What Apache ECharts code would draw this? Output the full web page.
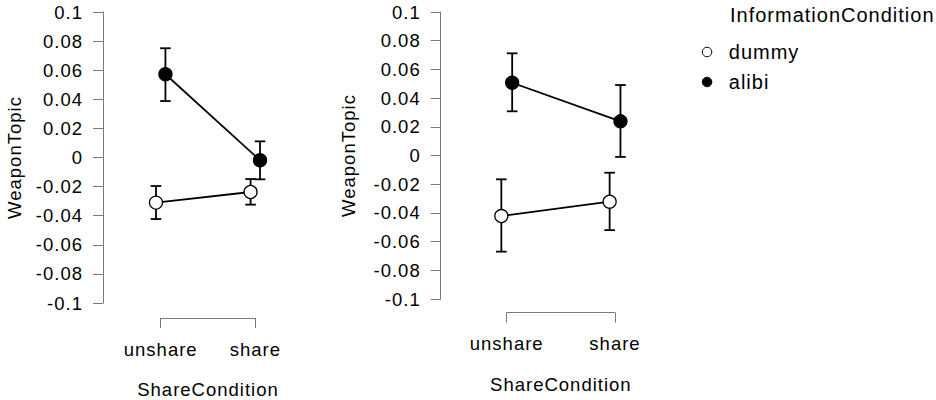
<!DOCTYPE html>
<html>
<head>
<meta charset="utf-8">
<script src="https://cdn.jsdelivr.net/npm/echarts@6/dist/echarts.min.js"></script>
<style>
  html, body { margin: 0; padding: 0; background: #fff; }
  #chart { width: 936px; height: 400px; }
  /* R's text is a bit more loosely spaced than Liberation Sans */
  #chart svg text { letter-spacing: 1px; }
</style>
</head>
<body>
<div id="chart"></div>
<script>
  'use strict'

  //------------------- Data -------------------//
  var categories = ['unshare', 'share']
  var groups = ['dummy', 'alibi']
  var yTicks = { min: -0.1, max: 0.1, step: 0.02 }

  // left panel
  var dummyMean1 = [-0.031, -0.0237]
  var dummyLow1 = [-0.0423, -0.0324]
  var dummyHigh1 = [-0.0196, -0.0148]
  var alibiMean1 = [0.0572, -0.0019]
  var alibiLow1 = [0.0388, -0.015]
  var alibiHigh1 = [0.0751, 0.0111]

  // right panel
  var dummyMean2 = [-0.0422, -0.0322]
  var dummyLow2 = [-0.067, -0.052]
  var dummyHigh2 = [-0.0166, -0.012]
  var alibiMean2 = [0.0507, 0.0238]
  var alibiLow2 = [0.0308, -0.001]
  var alibiHigh2 = [0.0712, 0.0491]

  //------------------- Helpers -------------------//
  var font = 'Liberation Sans, Arial, Helvetica, sans-serif'
  var axisFont = 18.5
  var axisGrey = '#7a7a7a'
  var dodge = { dummy: -0.05, alibi: 0.05 }
  var fills = { dummy: '#fff', alibi: '#000' }

  function points(group, means) {
    return means.map((v, i) => [i + 1 + dodge[group], v])
  }

  function bars(group, lows, highs) {
    return lows.map((lo, i) => [i + 1 + dodge[group], lo, highs[i]])
  }

  function errorBarItem(params, api) {
    var x = api.value(0)
    var lo = api.coord([x, api.value(1)])
    var hi = api.coord([x, api.value(2)])
    var w = 5.3
    var style = { stroke: '#000', lineWidth: 1.8 }
    return {
      type: 'group',
      children: [
        { type: 'line', shape: { x1: lo[0], y1: lo[1], x2: hi[0], y2: hi[1] }, style: style },
        { type: 'line', shape: { x1: lo[0] - w, y1: lo[1], x2: lo[0] + w, y2: lo[1] }, style: style },
        { type: 'line', shape: { x1: hi[0] - w, y1: hi[1], x2: hi[0] + w, y2: hi[1] }, style: style },
      ],
    }
  }

  function lineSeries(name, data, axisIdx) {
    return {
      name,
      type: 'line',
      xAxisIndex: axisIdx,
      yAxisIndex: axisIdx,
      data,
      symbol: 'circle',
      symbolSize: 13,
      showAllSymbol: true,
      z: 3,
      lineStyle: { color: '#000', width: 1.8 },
      itemStyle: { color: fills[name], borderColor: '#000', borderWidth: 1.3 },
      emphasis: { disabled: true },
    }
  }

  function errSeries(name, data, axisIdx) {
    return {
      name,
      type: 'custom',
      xAxisIndex: axisIdx,
      yAxisIndex: axisIdx,
      data,
      z: 2,
      itemStyle: { color: fills[name], borderColor: '#000' },
      renderItem: errorBarItem,
      encode: { x: 0, y: [1, 2] },
    }
  }

  function mainAxes(gridIdx, nameGap) {
    return {
      x: { gridIndex: gridIdx, type: 'value', min: 0.39, max: 2.61, show: false },
      y: {
        gridIndex: gridIdx,
        type: 'value',
        min: yTicks.min,
        max: yTicks.max,
        interval: yTicks.step,
        name: 'WeaponTopic',
        nameLocation: 'middle',
        nameGap,
        nameRotate: 90,
        nameTextStyle: { fontSize: axisFont, color: '#000', fontFamily: font },
        axisLine: { show: true, lineStyle: { color: axisGrey, width: 1 } },
        axisTick: { show: true, length: 10, lineStyle: { color: axisGrey, width: 1 } },
        axisLabel: {
          fontSize: axisFont,
          color: '#000',
          fontFamily: font,
          margin: 20,
          formatter: v => String(parseFloat(v.toFixed(2))),
        },
        splitLine: { show: false },
      },
    }
  }

  function bracketAxes(gridIdx) {
    return {
      x: {
        gridIndex: gridIdx,
        type: 'value',
        min: 1,
        max: categories.length,
        interval: 1,
        name: 'ShareCondition',
        nameLocation: 'middle',
        nameGap: 62,
        nameTextStyle: { fontSize: axisFont, color: '#000', fontFamily: font },
        axisLine: { show: true, lineStyle: { color: axisGrey, width: 1 } },
        axisTick: { show: true, length: 10, lineStyle: { color: axisGrey, width: 1 } },
        axisLabel: {
          fontSize: axisFont,
          color: '#000',
          fontFamily: font,
          margin: 21.7,
          formatter: v => categories[Math.round(v) - 1] || '',
        },
        splitLine: { show: false },
      },
      y: { gridIndex: gridIdx, type: 'value', show: false },
    }
  }

  //------------------- Chart -------------------//
  var m1 = mainAxes(0, 79)
  var b1 = bracketAxes(1)
  var m2 = mainAxes(2, 83)
  var b2 = bracketAxes(3)

  var option = {
    animation: false,
    backgroundColor: '#fff',
    textStyle: { fontFamily: font },
    title: {
      text: 'InformationCondition',
      left: 730,
      top: 5,
      padding: 0,
      textStyle: { fontSize: 20, fontWeight: 'normal', color: '#000', fontFamily: font },
    },
    legend: {
      data: groups.map(g => ({ name: g, itemStyle: { color: fills[g], borderColor: '#000', borderWidth: 1 } })),
      orient: 'vertical',
      left: 701.8,
      top: 42,
      padding: 0,
      itemGap: 10,
      itemWidth: 9.5,
      itemHeight: 9.5,
      icon: 'circle',
      selectedMode: false,
      textStyle: { fontSize: 20, color: '#000', fontFamily: font, lineHeight: 20, padding: [0, 0, 0, 12] },
    },
    grid: [
      { left: 103, top: 12, width: 210, height: 291 },
      { left: 160.7, top: 317.3, width: 94.6, height: 1 },
      { left: 440.7, top: 12, width: 240.4, height: 287 },
      { left: 506.7, top: 311.7, width: 108.3, height: 1 },
    ],
    xAxis: [m1.x, b1.x, m2.x, b2.x],
    yAxis: [m1.y, b1.y, m2.y, b2.y],
    series: [
      errSeries('dummy', bars('dummy', dummyLow1, dummyHigh1), 0),
      errSeries('alibi', bars('alibi', alibiLow1, alibiHigh1), 0),
      lineSeries('dummy', points('dummy', dummyMean1), 0),
      lineSeries('alibi', points('alibi', alibiMean1), 0),
      errSeries('dummy', bars('dummy', dummyLow2, dummyHigh2), 2),
      errSeries('alibi', bars('alibi', alibiLow2, alibiHigh2), 2),
      lineSeries('dummy', points('dummy', dummyMean2), 2),
      lineSeries('alibi', points('alibi', alibiMean2), 2),
    ],
  }

  var chart = echarts.init(document.getElementById('chart'), null, { renderer: 'svg' })
  chart.setOption(option)
</script>
</body>
</html>
